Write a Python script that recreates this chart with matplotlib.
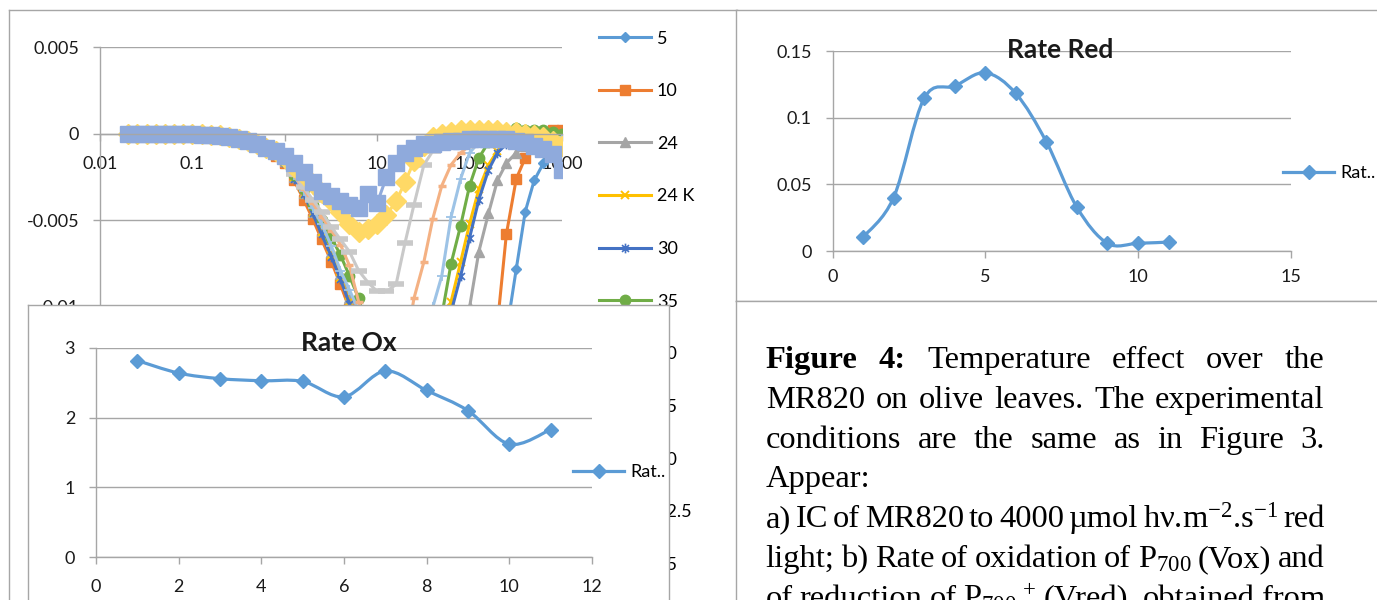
import numpy as np
import matplotlib.pyplot as plt
from matplotlib.path import Path
from matplotlib.patches import PathPatch
from matplotlib.lines import Line2D

W, H = 1377, 600

plt.rcParams['font.family'] = ['Lato', 'DejaVu Sans']
plt.rcParams['mathtext.fontset'] = 'custom'
plt.rcParams['mathtext.rm'] = 'Liberation Serif'
plt.rcParams['mathtext.it'] = 'Liberation Serif:italic'
plt.rcParams['mathtext.bf'] = 'Liberation Serif:bold'

# ---- induction curves of MR820 (time in ms, signal) ----
t = [0.02, 0.025, 0.032, 0.04, 0.05, 0.063, 0.08, 0.1, 0.126, 0.16,
     0.2, 0.25, 0.32, 0.4, 0.5, 0.63, 0.8, 1.0, 1.26, 1.6,
     2.0, 2.5, 3.2, 4.0, 5.0, 6.3, 8.0, 10, 12.6, 16,
     20, 25, 32, 40, 50, 63, 80, 100, 126, 160,
     200, 250, 320, 400, 500, 630, 800, 1000]

ic_labels = ["5", "10", "24", "24 K", "30", "35", "40", "45", "50", "52.5", "55"]

ic_5 = [0, 0, 0, 0, 0, 0, 0, 0, -0.00005, -0.0001,
        -0.00013, -0.0002, -0.0003, -0.00046, -0.00067, -0.0009, -0.0013, -0.0017, -0.0026, -0.0036,
        -0.0047, -0.0059, -0.0072, -0.0086, -0.0100, -0.0116, -0.0135, -0.0150, -0.0165, -0.0175,
        -0.0180, -0.0182, -0.0182, -0.0180, -0.0178, -0.0175, -0.0170, -0.0162, -0.0152, -0.0140,
        -0.0128, -0.0115, -0.0078, -0.0045, -0.0027, -0.0017, -0.0011, -0.0006]
ic_10 = [0, 0, 0, 0, 0, 0, 0, 0, -0.00005, -0.0001,
         -0.00014, -0.00022, -0.00032, -0.00048, -0.0007, -0.00095, -0.0013, -0.0017, -0.0027, -0.0038,
         -0.0049, -0.0061, -0.0074, -0.0087, -0.0101, -0.0118, -0.0136, -0.0152, -0.0166, -0.0176,
         -0.0182, -0.0185, -0.0185, -0.0183, -0.0180, -0.0176, -0.0170, -0.0162, -0.0150, -0.0136,
         -0.0110, -0.0058, -0.0026, -0.0014, -0.0006, -0.0001, 0.0002, 0.0002]
ic_24 = [0, 0, 0, 0, 0, 0, 0, 0, -0.00005, -0.0001,
         -0.00012, -0.0002, -0.0003, -0.00045, -0.00065, -0.0009, -0.0012, -0.0016, -0.0025, -0.0034,
         -0.0045, -0.0056, -0.0068, -0.0081, -0.0095, -0.0110, -0.0126, -0.0140, -0.0152, -0.0160,
         -0.0165, -0.0166, -0.0164, -0.0160, -0.0152, -0.0140, -0.0118, -0.0100, -0.0068, -0.0046,
         -0.0027, -0.0017, -0.0011, -0.0007, -0.0005, -0.0004, -0.0004, -0.0004]
ic_24k = [0, 0, 0, 0, 0, 0, 0, 0, -0.00005, -0.0001,
          -0.00012, -0.0002, -0.0003, -0.00045, -0.00065, -0.0009, -0.0012, -0.0016, -0.0025, -0.0035,
          -0.0046, -0.0057, -0.0070, -0.0083, -0.0097, -0.0112, -0.0127, -0.0140, -0.0150, -0.0156,
          -0.0158, -0.0157, -0.0152, -0.0142, -0.0125, -0.0097, -0.0074, -0.0052, -0.0032, -0.0018,
          -0.0010, -0.0005, -0.0003, -0.0002, -0.0002, -0.0002, -0.0002, -0.0002]
ic_30 = [0, 0, 0, 0, 0, 0, 0, 0, -0.00005, -0.0001,
         -0.00013, -0.0002, -0.0003, -0.00046, -0.00066, -0.0009, -0.0012, -0.0017, -0.0026, -0.0035,
         -0.0046, -0.0058, -0.0071, -0.0084, -0.0098, -0.0113, -0.0129, -0.0142, -0.0152, -0.0158,
         -0.0161, -0.0160, -0.0155, -0.0145, -0.0128, -0.0103, -0.0082, -0.0060, -0.0038, -0.0021,
         -0.0011, -0.0006, -0.0004, -0.0003, -0.0003, -0.0003, -0.0003, -0.0003]
ic_35 = [0, 0, 0, 0, 0, 0, 0, 0, -0.00005, -0.0001,
         -0.00012, -0.0002, -0.0003, -0.00045, -0.00064, -0.0009, -0.0012, -0.0016, -0.0024, -0.0032,
         -0.0041, -0.0050, -0.0060, -0.0070, -0.0082, -0.0095, -0.0115, -0.0130, -0.0141, -0.0147,
         -0.0150, -0.0148, -0.0142, -0.0130, -0.0105, -0.0075, -0.0053, -0.0030, -0.0014, -0.0005,
         -0.0001, 0.0002, 0.0003, 0.0002, 0.0002, 0.0002, 0.0001, 0.0]
ic_40 = [0, 0, 0, 0, 0, 0, 0, 0, -0.00005, -0.0001,
         -0.00012, -0.0002, -0.0003, -0.00045, -0.00064, -0.0009, -0.0012, -0.0016, -0.0024, -0.0033,
         -0.0043, -0.0052, -0.0065, -0.0079, -0.0090, -0.0102, -0.0120, -0.0133, -0.0141, -0.0145,
         -0.0145, -0.0140, -0.0125, -0.0100, -0.0082, -0.0048, -0.0026, -0.0011, -0.0005, -0.0003,
         -0.0003, -0.0003, -0.0003, -0.0003, -0.0003, -0.0003, -0.0003, -0.0003]
ic_45 = [0, 0, 0, 0, 0, 0, 0, 0, -0.00005, -0.0001,
         -0.00012, -0.0002, -0.0003, -0.00045, -0.00063, -0.00088, -0.0012, -0.0016, -0.0024, -0.0032,
         -0.0040, -0.0048, -0.0056, -0.0064, -0.0076, -0.0097, -0.0115, -0.0127, -0.0133, -0.0132,
         -0.0125, -0.0095, -0.0074, -0.0049, -0.0030, -0.0018, -0.0011, -0.0007, -0.0005, -0.0004,
         -0.0003, -0.0003, -0.0003, -0.0003, -0.0003, -0.0003, -0.0003, -0.0003]
ic_50 = [0, 0, 0, 0, 0, 0, 0, 0, -0.00005, -0.0001,
         -0.00012, -0.0002, -0.0003, -0.00045, -0.00063, -0.00088, -0.0012, -0.0016, -0.0023, -0.0031,
         -0.0038, -0.0045, -0.0054, -0.0061, -0.0068, -0.0079, -0.0086, -0.0091, -0.0091, -0.0087,
         -0.0063, -0.0041, -0.0018, -0.0010, -0.0006, -0.0004, -0.0003, -0.0003, -0.0003, -0.0003,
         -0.0003, -0.0003, -0.0003, -0.0003, -0.0003, -0.0003, -0.0003, -0.0003]
ic_52 = [0, 0, 0, 0, 0, 0, 0, 0, -0.00004, -0.00008,
         -0.0001, -0.00018, -0.00028, -0.0004, -0.0006, -0.0008, -0.001, -0.0014, -0.0019, -0.0024,
         -0.0029, -0.0034, -0.0039, -0.0045, -0.0052, -0.0057, -0.0055, -0.0052, -0.0047, -0.0039,
         -0.0028, -0.0016, -0.0007, -0.0002, 0.0, 0.0001, 0.0002, 0.0002, 0.0002, 0.0002,
         0.0002, 0.0001, 0.0001, 0.0, -0.0001, -0.0002, -0.0004, -0.0007]
ic_55 = [0, 0, 0, 0, 0, 0, 0, -0.00003, -0.00005, -0.0001,
         -0.00015, -0.00022, -0.0003, -0.00045, -0.0006, -0.0008, -0.001, -0.0013, -0.0017, -0.0022,
         -0.0028, -0.0033, -0.0036, -0.0039, -0.0041, -0.0043, -0.0035, -0.0040, -0.0025, -0.0017,
         -0.0011, -0.0008, -0.0006, -0.0006, -0.0005, -0.0004, -0.0004, -0.0003, -0.0003, -0.0003,
         -0.0003, -0.0003, -0.0004, -0.0005, -0.0007, -0.0009, -0.0012, -0.0021]

ic_series = [ic_5, ic_10, ic_24, ic_24k, ic_30, ic_35, ic_40, ic_45, ic_50, ic_52, ic_55]

ic_xticks = [0.01, 0.1, 1, 10, 100, 1000]
ic_xticklabels = ["0.01", "0.1", "1", "10", "100", "1000"]
ic_yticks = [-0.01, -0.005, 0, 0.005]
ic_yticklabels = ["-0.01", "-0.005", "0", "0.005"]

# ---- rates per temperature step ----
rate_x = [1, 2, 3, 4, 5, 6, 7, 8, 9, 10, 11]
rate_ox = [2.82, 2.64, 2.56, 2.53, 2.52, 2.30, 2.67, 2.39, 2.10, 1.62, 1.83]
rate_red = [0.0103, 0.040, 0.1145, 0.1237, 0.1337, 0.1182, 0.0819, 0.0328, 0.0058, 0.0058, 0.0067]

# ---- caption ----
caption_bold = ["Figure", "4:"]
caption_lines = [
    "Temperature effect over the",
    "MR820 on olive leaves. The experimental",
    "conditions are the same as in Figure 3.",
    "Appear:",
    "a) IC of MR820 to 4000 µmol hν.m$^{-2}$.s$^{-1}$ red",
    "light; b) Rate of oxidation of P$_{700}$ (Vox) and",
    "of reduction of P$_{700}{}^{\\,+}$ (Vred), obtained from",
]

# styles
IC_COLORS = ['#5B9BD5', '#ED7D31', '#A5A5A5', '#FFC000', '#4472C4', '#70AD47',
             '#9DC3E6', '#F4B183', '#C9C9C9', '#FFD966', '#8FAADC']
ASTER = Path([(0, -1), (0, 1), (-0.71, -0.71), (0.71, 0.71), (-0.71, 0.71), (0.71, -0.71)],
             [Path.MOVETO, Path.LINETO] * 3)
IC_MARKERS = ['D', 's', '^', 'x', ASTER, 'o', '+', '_', '_', 'D', 's']
IC_MS = [5.5, 7, 7, 6, 7, 7.5, 7, 6, 11, 10, 11]
IC_MEW = [1, 1, 1, 1.4, 1.2, 1, 1.3, 2.5, 4, 1, 1]
AX_C = '#a6a6a6'
TXT_C = '#1a1a1a'
RATE_C = '#5B9BD5'
TICK_FS = 13


def box(x0, y0, x1, y1):
    return [x0 / W, 1 - y1 / H, (x1 - x0) / W, (y1 - y0) / H]


def fpt(x, y):
    return (x / W, 1 - y / H)


def panel(x0, y0, x1, y1, z):
    a = fig.add_axes(box(x0, y0, x1, y1))
    a.set_xticks([])
    a.set_yticks([])
    for s in a.spines.values():
        s.set_color(AX_C)
        s.set_linewidth(1.0)
    a.set_zorder(z)
    return a


def style(ax, xpad, ypad):
    for s in ['top', 'right']:
        ax.spines[s].set_visible(False)
    for s in ['left', 'bottom']:
        ax.spines[s].set_color(AX_C)
        ax.spines[s].set_linewidth(1.0)
    ax.tick_params(which='both', color=AX_C, labelcolor=TXT_C, labelsize=TICK_FS,
                   length=5, width=1, direction='out')
    ax.tick_params(axis='x', pad=xpad)
    ax.tick_params(axis='y', pad=ypad)
    ax.tick_params(which='minor', length=0)
    ax.yaxis.grid(True, color=AX_C, lw=1.0)
    ax.set_axisbelow(True)
    ax.patch.set_alpha(0)


def smooth_path(xs, ys):
    # Bezier segments with tangents taken from the neighbouring points
    pts = np.column_stack([xs, ys]).astype(float)
    n = len(pts)
    verts, codes = [pts[0]], [Path.MOVETO]
    for i in range(n - 1):
        p0 = pts[i - 1] if i > 0 else pts[i]
        p1, p2 = pts[i], pts[i + 1]
        p3 = pts[i + 2] if i + 2 < n else p2
        verts += [p1 + (p2 - p0) / 6, p2 - (p3 - p1) / 6, p2]
        codes += [Path.CURVE4] * 3
    return Path(verts, codes)


def rate_plot(ax, ys):
    ax.add_patch(PathPatch(smooth_path(rate_x, ys), fill=False, ec=RATE_C, lw=2.3,
                           capstyle='round', joinstyle='round', zorder=3))
    ax.plot(rate_x, ys, ls='none', marker='D', ms=7.5, color=RATE_C, zorder=4)
    return Line2D([], [], color=RATE_C, lw=2.3, marker='D', ms=7.5)


fig = plt.figure(figsize=(W / 100, H / 100), dpi=100)
fig.patch.set_facecolor('white')

# ---- induction curve chart ----
panel(9, 10, 737, 640, 0)
ax = fig.add_axes(box(100, 47, 562, 567))
ax.set_zorder(1)
handles = []
for ys, c, m, ms, mew, lab in zip(ic_series, IC_COLORS, IC_MARKERS, IC_MS, IC_MEW, ic_labels):
    ln, = ax.plot(t, ys, color=c, lw=2.2, marker=m, ms=ms, mec=c, mfc=c, mew=mew, label=lab)
    handles.append(ln)
ax.set_xscale('log')
ax.set_xlim(0.01, 1000)
ax.set_ylim(-0.025, 0.005)
ax.spines['bottom'].set_position(('data', 0))
ax.set_xticks(ic_xticks)
ax.set_xticklabels(ic_xticklabels)
ax.set_yticks(ic_yticks)
ax.set_yticklabels(ic_yticklabels)
style(ax, 11, 10)
ax.legend(handles=handles, loc='upper left', bbox_to_anchor=fpt(599, 30.5),
          bbox_transform=fig.transFigure, frameon=False, fontsize=TICK_FS,
          handlelength=2.88, handletextpad=0.33, labelspacing=2.03,
          borderpad=0, borderaxespad=0)

# ---- Rate Red ----
panel(736, 10, 1400, 301, 0)
axr = fig.add_axes(box(832.5, 51, 1290.7, 251))
axr.set_zorder(1)
hr = rate_plot(axr, rate_red)
axr.set_xlim(0, 15)
axr.set_ylim(0, 0.15)
axr.set_xticks([0, 5, 10, 15])
axr.set_yticks([0, 0.05, 0.1, 0.15])
axr.set_yticklabels(["0", "0.05", "0.1", "0.15"])
style(axr, 8, 10)
axr.text(*fpt(1060, 50), "Rate Red", transform=fig.transFigure, ha='center', va='center',
         fontsize=19, fontweight='bold', color=TXT_C, zorder=6)
axr.legend(handles=[hr], labels=["Rat.."], loc='center left', bbox_to_anchor=fpt(1283, 173),
           bbox_transform=fig.transFigure, frameon=False, fontsize=TICK_FS,
           handlelength=2.85, handletextpad=0.33, borderpad=0, borderaxespad=0)

# ---- caption box ----
panel(736, 301, 1400, 640, 0)
renderer = fig.canvas.get_renderer()
CAP_FS = 23.4
left, right = 765.7, 1324.7
for i, line in enumerate(caption_lines):
    words = line.split(' ')
    weights = ['normal'] * len(words)
    if i == 0:
        words = caption_bold + words
        weights = ['bold'] * len(caption_bold) + weights
    y = 368 + 39.8 * i
    arts = [fig.text(0, 1 - y / H, w, fontsize=CAP_FS, family='Liberation Serif',
                     fontweight=wt, va='baseline', ha='left', color='black')
            for w, wt in zip(words, weights)]
    widths = [a.get_window_extent(renderer).width for a in arts]
    if line == "Appear:":
        gap = 0
    else:
        gap = (right - left - sum(widths)) / (len(words) - 1)
    x = left
    for a, wd in zip(arts, widths):
        a.set_x(x / W)
        x += wd + gap

# ---- Rate Ox (sits over the lower part of the induction chart) ----
panel(28, 305, 669, 640, 5)
axo = fig.add_axes(box(96, 348, 592, 557))
axo.set_zorder(6)
ho = rate_plot(axo, rate_ox)
axo.set_xlim(0, 12)
axo.set_ylim(0, 3)
axo.set_xticks([0, 2, 4, 6, 8, 10, 12])
axo.set_yticks([0, 1, 2, 3])
style(axo, 11, 10)
axo.text(*fpt(349, 343), "Rate Ox", transform=fig.transFigure, ha='center', va='center',
         fontsize=19, fontweight='bold', color=TXT_C, zorder=6)
axo.legend(handles=[ho], labels=["Rat.."], loc='center left', bbox_to_anchor=fpt(573, 472),
           bbox_transform=fig.transFigure, frameon=False, fontsize=TICK_FS,
           handlelength=2.85, handletextpad=0.33, borderpad=0, borderaxespad=0)

fig.savefig('out.png', dpi=100)
